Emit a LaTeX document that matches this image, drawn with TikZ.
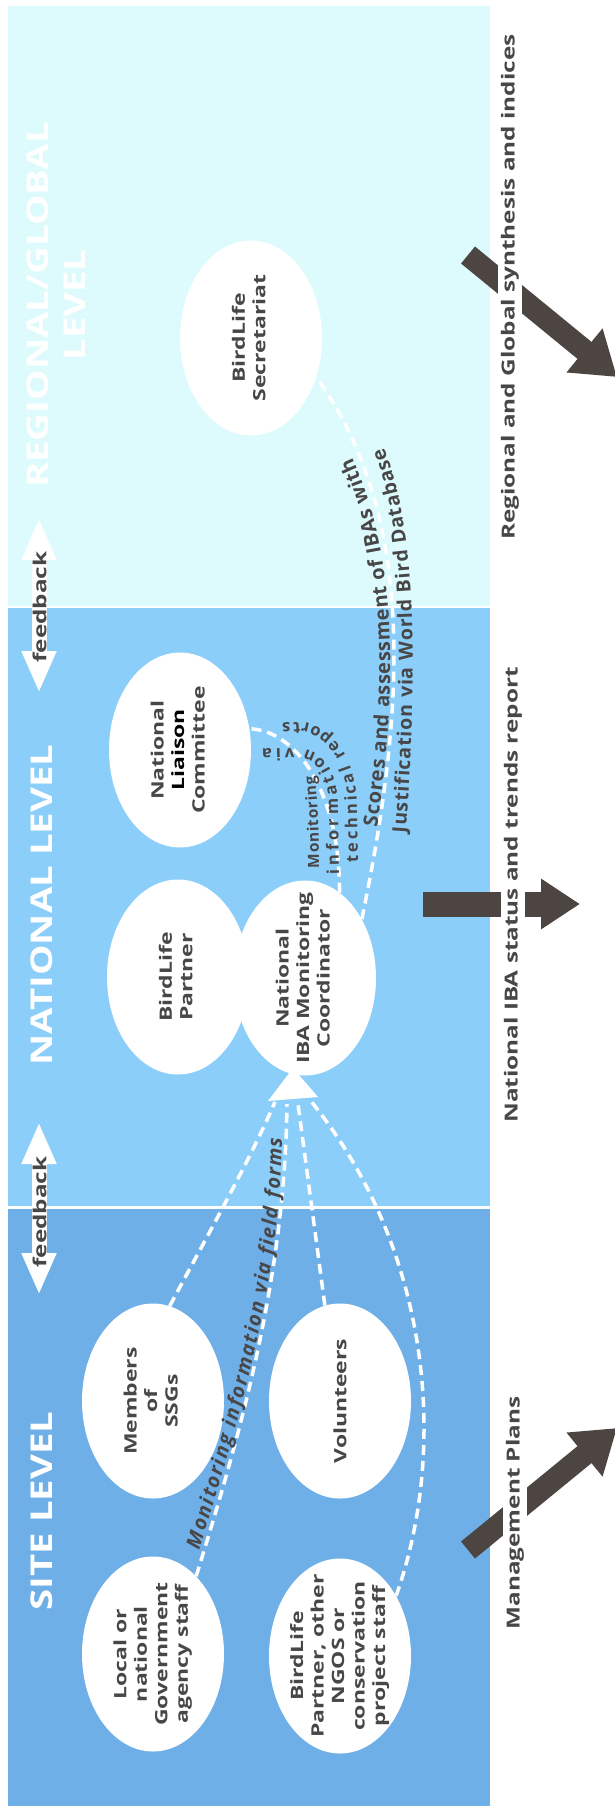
\documentclass[tikz,border=0pt]{standalone}
\usepackage{fontspec}
\setmainfont{Open Sans}
\usepackage{graphicx}
\usetikzlibrary{shapes.geometric,arrows.meta,decorations.text}
\definecolor{regbg}{RGB}{221,251,253}
\definecolor{natbg}{RGB}{140,206,250}
\definecolor{sitebg}{RGB}{110,175,232}
\definecolor{ink}{RGB}{72,70,70}
\definecolor{arr}{RGB}{77,69,65}
\newcommand\sx[1]{\scalebox{1.35}[1]{#1}}
\newcommand\tx[1]{\scalebox{1.28}[1]{#1}}
\newcommand\stk[1]{\sx{\begin{tabular}{@{}c@{}}#1\end{tabular}}}
\begin{document}
\begin{tikzpicture}[x=1pt,y=1pt,
  bub/.style={ellipse, fill=white, minimum width=142pt, minimum height=195pt, inner sep=0pt},
  btxt/.style={rotate=90, text=ink, inner sep=0pt, font=\fontsize{17}{20.5}\selectfont\bfseries},
  lev/.style={rotate=90, text=white, inner sep=0pt, font=\fontsize{30}{37}\selectfont\bfseries},
  conn/.style={white, line width=3.5pt, dash pattern=on 10pt off 6pt},
  fbarrow/.style={white, line width=15pt, {Triangle[length=42pt,width=32pt]}-{Triangle[length=42pt,width=32pt]}},
  fbtxt/.style={rotate=90, text=ink, inner sep=0pt, font=\fontsize{18}{20}\selectfont\bfseries},
  bigarrow/.style={arr, line width=22pt, -{Triangle[length=42pt,width=54pt]}},
  outtxt/.style={rotate=90, text=ink, fill=white, inner sep=3pt, font=\fontsize{18}{21}\selectfont\bfseries},
  ctext/.style={decorate, decoration={text along path, text align={fit to path}, text={#1}}}
]
\useasboundingbox (0,0) rectangle (615,-1810);
\clip (0,0) rectangle (615,-1810);
% background bands
\fill[regbg] (8,-6) rectangle (490,-607);
\fill[natbg] (8,-607) rectangle (490,-1207);
\fill[sitebg] (8,-1207) rectangle (490,-1806);
\draw[white, line width=1.5pt] (8,-607) -- (490,-607);
\draw[white, line width=3pt] (8,-1207) -- (490,-1207);
% level titles
\node[lev] (treg) at (60,-305) {\tx{\begin{tabular}{@{}c@{}}REGIONAL/GLOBAL\\LEVEL\end{tabular}}};
\node[lev] (tnat) at (42,-905) {\tx{NATIONAL LEVEL}};
\node[lev] (tsite) at (42,-1511) {\tx{SITE LEVEL}};
% feedback arrows
\coordinate (fb1s) at (39,-518); \coordinate (fb1e) at (39,-693);
\coordinate (fb2s) at (39,-1122); \coordinate (fb2e) at (39,-1295);
\draw[fbarrow] (fb1s) -- (fb1e);
\draw[fbarrow] (fb2s) -- (fb2e);
\node[fbtxt] (fbt1) at (39.5,-607) {\sx{feedback}};
\node[fbtxt] (fbt2) at (39.5,-1212) {\sx{feedback}};
% ellipses
\node[bub] (sec) at (251,-338) {};
\node[bub] (nlc) at (180,-750) {};
\node[bub] (bp) at (178,-977) {};
\node[bub] (coord) at (305,-978) {};
\node[bub] (mem) at (153,-1401) {};
\node[bub] (vol) at (340,-1401) {};
\node[bub] (lg) at (153,-1654) {};
\node[bub] (ngo) at (340,-1656) {};
\node[btxt] at (sec) {\stk{BirdLife\\Secretariat}};
\node[btxt] at (nlc) {\stk{National\\\textcolor{black}{Liaison}\\Committee}};
\node[btxt] at (bp) {\stk{BirdLife\\Partner}};
\node[btxt] at (coord) {\stk{National\\IBA Monitoring\\Coordinator}};
\node[btxt] at (mem) {\stk{Members\\of\\SSGs}};
\node[btxt] at (vol) {\sx{Volunteers}};
\node[btxt] at (lg) {\stk{Local or\\national\\Government\\agency staff}};
\node[btxt] at (ngo) {\stk{BirdLife\\Partner, other\\NGOS or\\conservation\\project staff}};
% hub arrowhead
\coordinate (hub) at (293,-1100);
\coordinate (h1) at (275,-1102);
\coordinate (h2) at (287,-1104);
\coordinate (h3) at (298,-1104);
\coordinate (h4) at (310,-1100);
\fill[white] (hub) ++(0,32) -- ++(-25,-33) -- ++(50,4) -- cycle;
% site connectors
\draw[conn] (mem.80) .. controls (205,-1240) and (250,-1160) .. (h1);
\draw[conn] (lg.61) .. controls (245,-1420) and (285,-1270) .. (h2);
\draw[conn] (vol.99) -- (h3);
\draw[conn] (ngo.47) .. controls (448,-1450) and (432,-1250) .. (h4);
\path[ctext={|\color{ink}\fontsize{20}{22}\selectfont\bfseries\itshape|Monitoring information via field forms}]
  (199,-1550) .. controls (240,-1420) and (280,-1280) .. (282,-1138);
% national connectors
\draw[conn] (coord.68) .. controls (340,-790) and (295,-730) .. (nlc.17);
\path[ctext={|\color{ink}\fontsize{15.5}{18}\selectfont\bfseries|Monitoring}]
  (319,-868) .. controls (319,-835) and (318,-805) .. (315,-776);
\path[ctext={|\color{ink}\fontsize{16.5}{18}\selectfont\bfseries|information via}]
  (339,-874) -- (338,-806) .. controls (337,-768) and (322,-750) .. (296,-748) -- (262,-749);
\path[ctext={|\color{ink}\fontsize{16.5}{18}\selectfont\bfseries|technical reports}]
  (358,-862) -- (357,-805) .. controls (356,-756) and (330,-724) .. (300,-722) -- (282,-723);
\draw[conn] (coord.46) .. controls (403,-720) and (420,-520) .. (sec.-31);
\path[ctext={|\color{ink}\fontsize{20}{22}\selectfont\bfseries|Scores and assessment of IBAs with}]
  (377,-827) .. controls (396,-700) and (400,-560) .. (352,-458);
\path[ctext={|\color{ink}\fontsize{19.5}{22}\selectfont\bfseries|Justification via World Bird Database}]
  (406,-833) .. controls (415,-700) and (421,-540) .. (384,-448);
% output arrows
\coordinate (ra0) at (468,-255); \coordinate (ra1) at (617,-377);
\coordinate (na0) at (423,-904); \coordinate (na1) at (580,-904);
\coordinate (ma0) at (468,-1550); \coordinate (ma1) at (617,-1428);
\draw[bigarrow] (ra0) -- (ra1);
\draw[bigarrow, line width=25pt, -{Triangle[length=39pt,width=48pt]}] (na0) -- (na1);
\draw[bigarrow] (ma0) -- (ma1);
\node[outtxt] (rt) at (510,-287) {\sx{Regional and Global synthesis and indices}};
\node[outtxt] (nt) at (513,-895) {\sx{National IBA status and trends report}};
\node[outtxt] (mt) at (515,-1513) {\sx{Management Plans}};
\end{tikzpicture}
\end{document}
